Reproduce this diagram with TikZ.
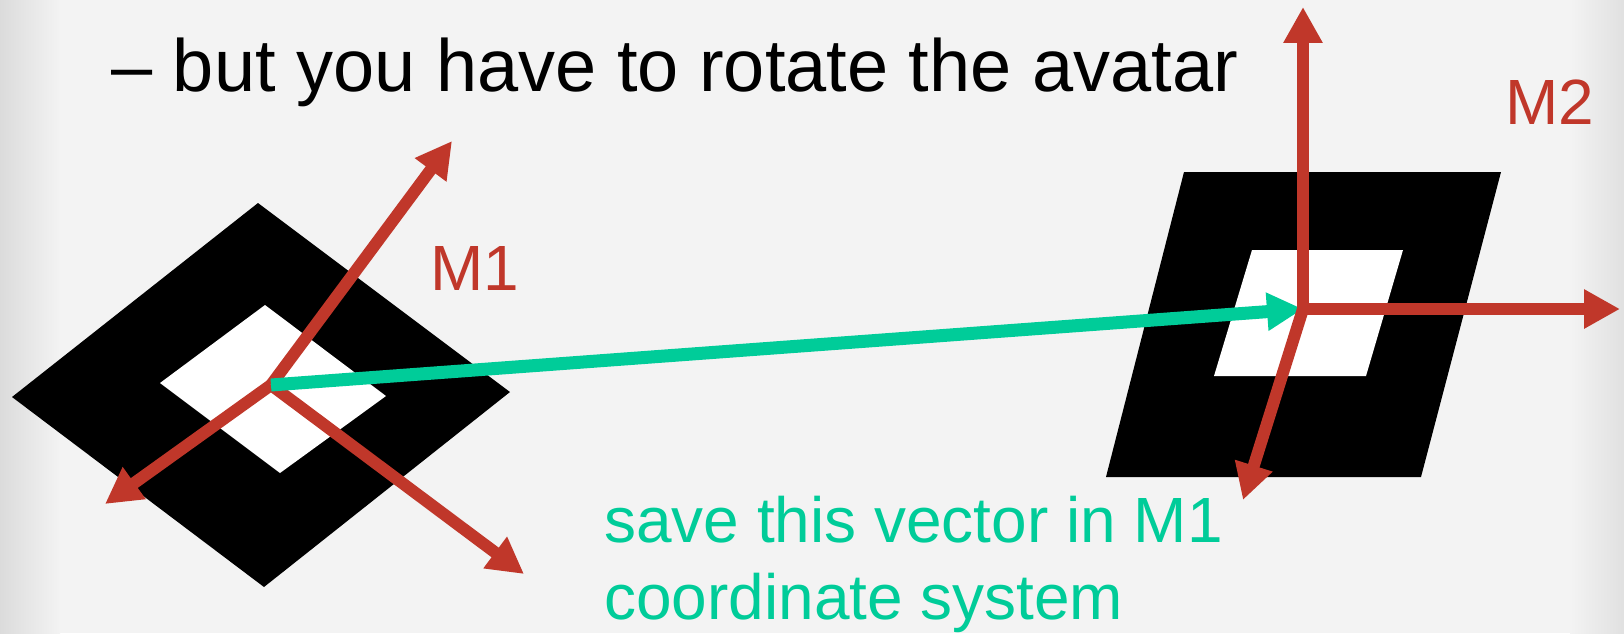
\documentclass[tikz,border=0pt]{standalone}
\usepackage{fontspec}
\setmainfont{Liberation Sans}
\usetikzlibrary{arrows.meta}
\definecolor{axisred}{RGB}{192,55,42}
\definecolor{vecgreen}{RGB}{0,204,153}
\definecolor{slidebg}{RGB}{243,243,243}
\tikzset{
  axis/.style={axisred, line width=0.24cm, -{Triangle[length=0.72cm,width=0.74cm]}},
  vec/.style={vecgreen, line width=0.26cm, -{Triangle[length=0.72cm,width=0.72cm]}},
  lbl/.style={text=axisred, inner sep=0, font=\fontsize{36.4pt}{43.7pt}\selectfont}
}
\begin{document}
\begin{tikzpicture}[x=0.02cm, y=-0.02cm]
  \fill[slidebg] (0,0) rectangle (1624,633);
  \useasboundingbox (0,0) rectangle (1624,633);
  \shade[left color=black!14, right color=slidebg] (0,0) rectangle (60,633);
  \shade[left color=slidebg, right color=black!12] (1570,0) rectangle (1624,633);

  \fill (258,203) -- (510,392) -- (264,587) -- (12,397) -- cycle;
  \fill[white] (265,305) -- (386,396) -- (280,473) -- (160,383) -- cycle;
  \fill (1184,172) -- (1501,172) -- (1421,477) -- (1106,477) -- cycle;
  \fill[white] (1252,250) -- (1403,250) -- (1366,376) -- (1214,376) -- cycle;

  \coordinate (o1) at (271,385);
  \coordinate (m1a) at (452,141);
  \coordinate (m1b) at (105,504);
  \coordinate (m1c) at (524,574);
  \coordinate (o2) at (1303,309);
  \coordinate (m2a) at (1303,7);
  \coordinate (m2b) at (1620,309);
  \coordinate (m2c) at (1243,500);

  \foreach \tip in {m1a,m1b,m1c} \draw[axis] (o1) -- (\tip);
  \draw[vec] (o1) -- (o2);
  \foreach \tip in {m2a,m2b,m2c} \draw[axis] (o2) -- (\tip);

  \node[anchor=base west, inner sep=0, font=\fontsize{42.1pt}{50pt}\selectfont] (title) at (111,91) {– but you have to rotate the avatar};
  \node[lbl, anchor=base west] (m1) at (430,290) {M1};
  \node[lbl, anchor=base west] (m2) at (1505,124) {M2};
  \node[lbl, text=vecgreen, align=left, anchor=north west] (note) at (604,496) {save this vector in M1\\coordinate system};
\end{tikzpicture}
\end{document}
